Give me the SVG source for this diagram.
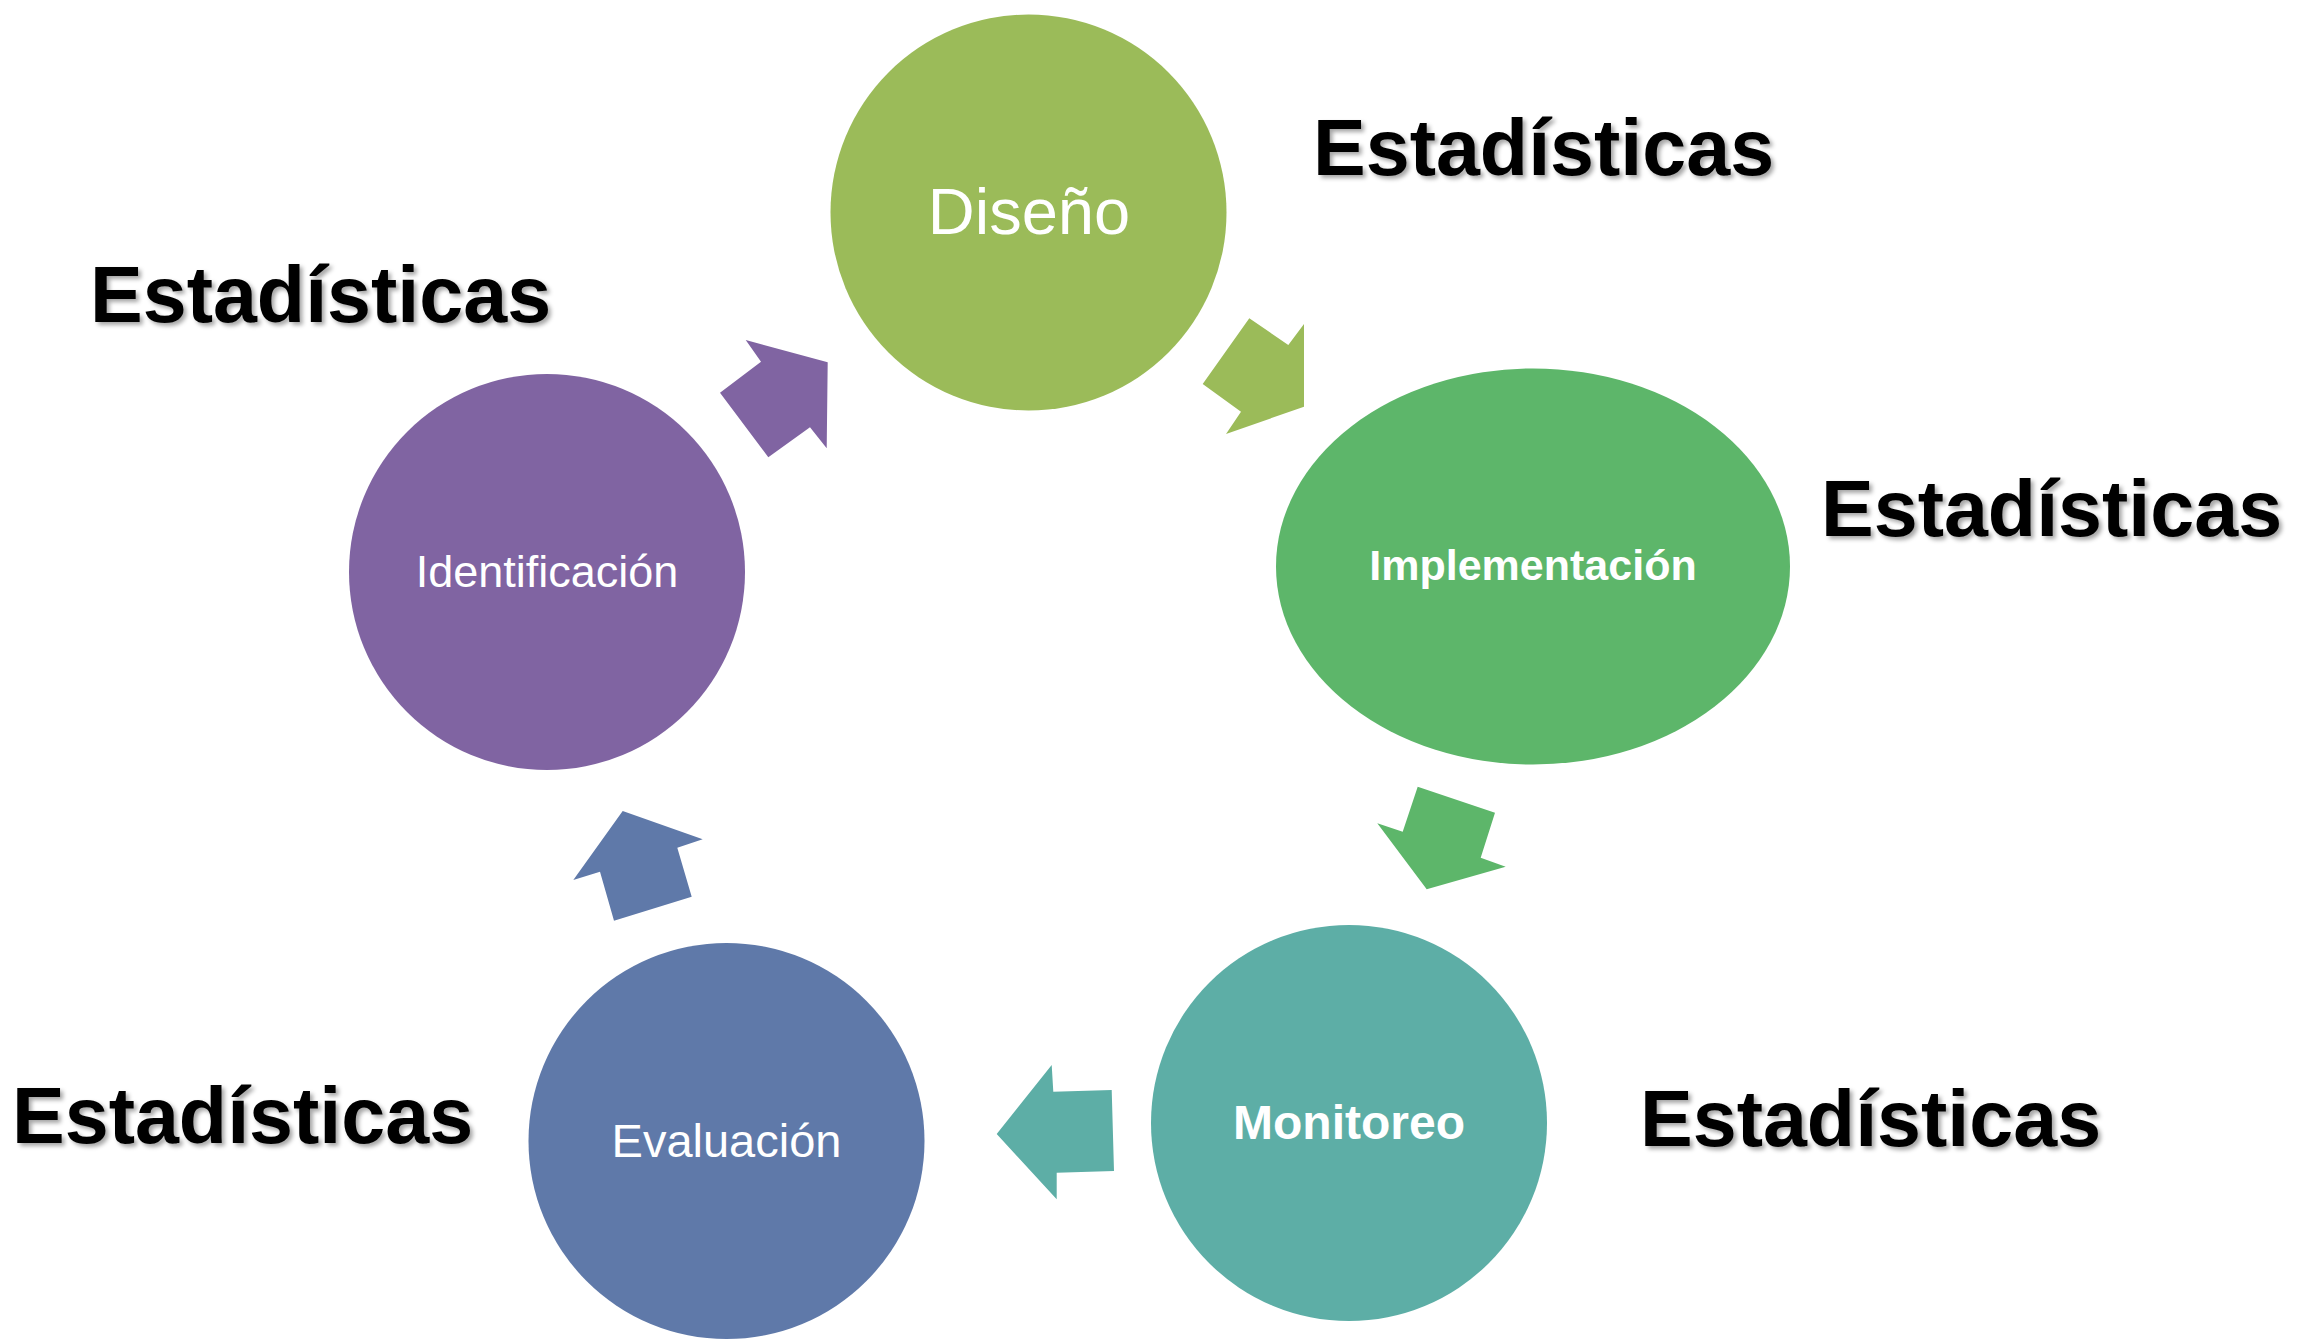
<svg xmlns="http://www.w3.org/2000/svg" width="2299" height="1340" viewBox="0 0 2299 1340">
<defs>
<filter id="shadow" x="-5%" y="-20%" width="110%" height="150%">
<feDropShadow dx="3" dy="3" stdDeviation="2" flood-color="#000" flood-opacity="0.35"/>
</filter>
<style>
.stat{font-family:"Liberation Sans",Arial,sans-serif;font-weight:bold;font-size:79px;fill:#000;filter:url(#shadow)}
.lbl{font-family:"Liberation Sans",Arial,sans-serif;fill:#fff;text-anchor:middle}
</style>
</defs>
<rect width="2299" height="1340" fill="#fff"/>
<g id="connectors">
<polygon points="745.7,340 827.7,362.3 826.7,448.3 810,427.3 768.3,457.3 720,392.7 761,361.7" fill="#8064A2"/>
<polygon points="1249.3,318.3 1288.3,345 1304,324 1304,406.7 1226,434 1241,411.7 1202.7,384" fill="#9BBB59"/>
<polygon points="1417.7,786.7 1495,812.7 1480.7,857.7 1505.7,866.7 1426.7,889.3 1377.3,823.3 1402.7,831.7" fill="#5DB66A"/>
<polygon points="1051.7,1065 1053.3,1091.7 1111.7,1090 1114,1171 1056.7,1172.7 1056.7,1199.3 996.7,1134" fill="#5DAEA6"/>
<polygon points="622.7,811 702.7,839.3 677.3,847.7 691.7,896.7 614,920.7 600,871.7 573.3,880" fill="#5F79A9"/>
</g>
<g id="node-diseno">
<circle cx="1028.5" cy="212.5" r="198" fill="#9BBB59"/>
<text class="lbl" x="1029" y="234" font-size="65">Diseño</text>
</g>
<g id="node-implementacion">
<ellipse cx="1533" cy="566.5" rx="257" ry="198" fill="#5DB66A"/>
<text class="lbl" x="1533" y="580" font-size="43" font-weight="bold">Implementación</text>
</g>
<g id="node-monitoreo">
<circle cx="1349" cy="1123" r="198" fill="#5DAEA6"/>
<text class="lbl" x="1349" y="1139" font-size="48" font-weight="bold">Monitoreo</text>
</g>
<g id="node-evaluacion">
<circle cx="726.5" cy="1141" r="198" fill="#5F79A9"/>
<text class="lbl" x="726.5" y="1157" font-size="47">Evaluación</text>
</g>
<g id="node-identificacion">
<circle cx="547" cy="572" r="198" fill="#8064A2"/>
<text class="lbl" x="547" y="587" font-size="45">Identificación</text>
</g>
<g id="labels">
<text class="stat" x="1313" y="175">Estadísticas</text>
<text class="stat" x="90" y="322">Estadísticas</text>
<text class="stat" x="1821" y="536">Estadísticas</text>
<text class="stat" x="1640" y="1146">Estadísticas</text>
<text class="stat" x="12" y="1143">Estadísticas</text>
</g>
</svg>
